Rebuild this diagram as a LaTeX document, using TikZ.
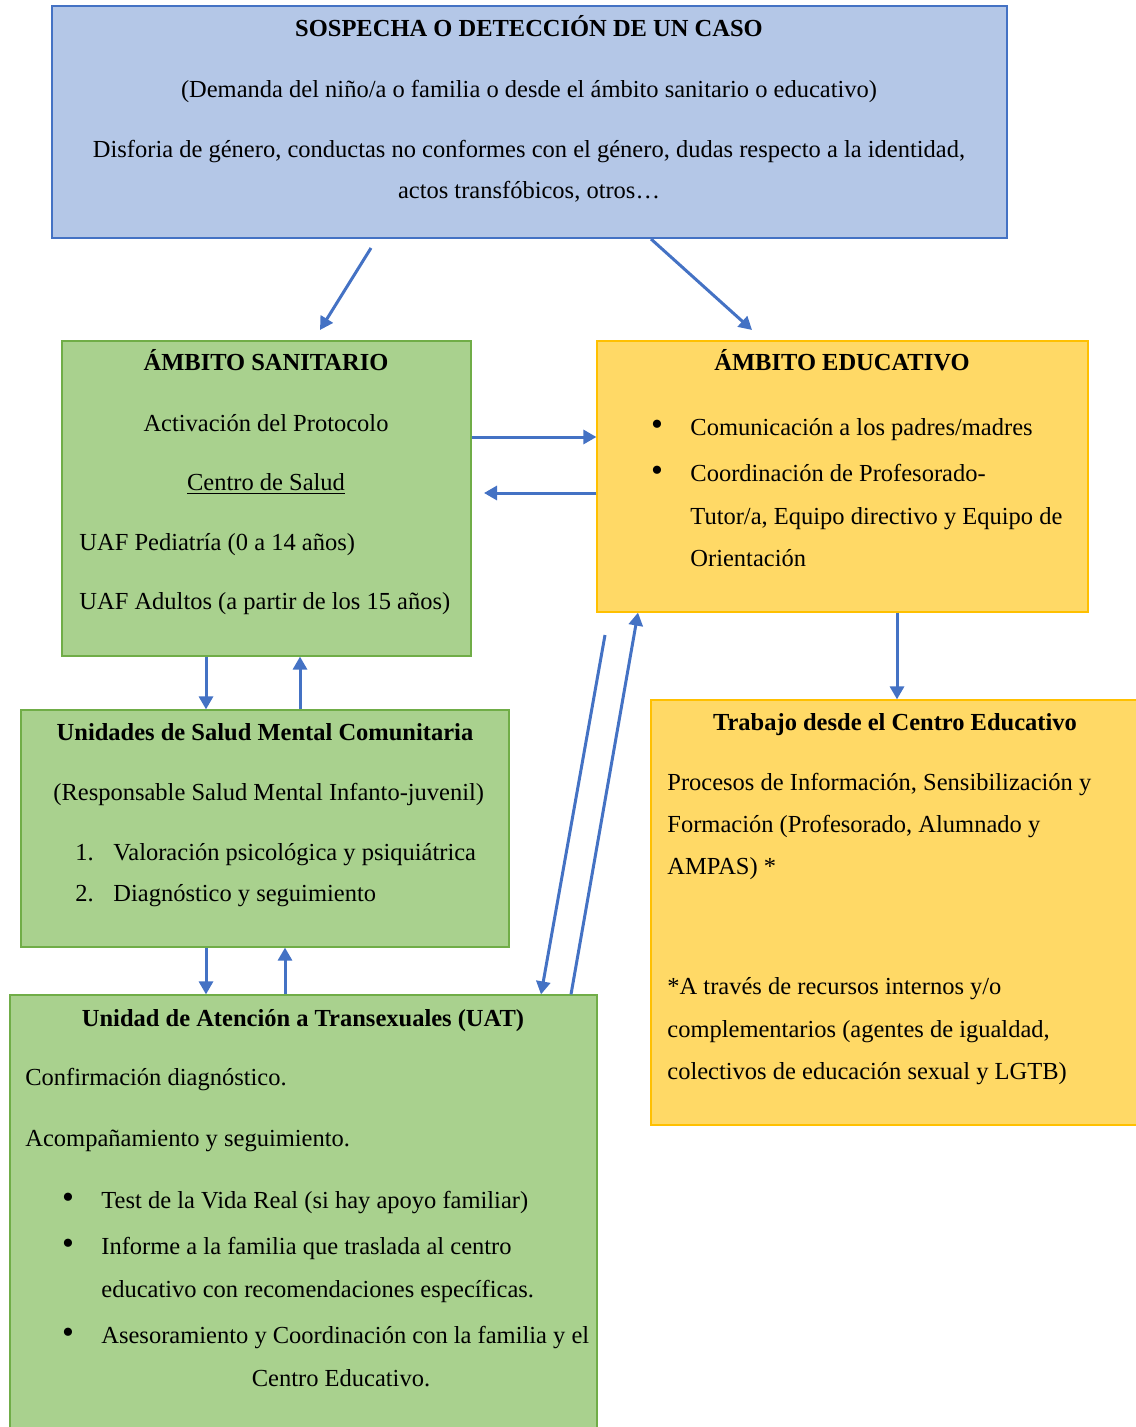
\documentclass[tikz,border=0pt]{standalone}
\usepackage{fontspec}
\setmainfont{Liberation Serif}
\usetikzlibrary{arrows.meta,fit}
\definecolor{bluefill}{HTML}{B4C7E7}
\definecolor{blueline}{HTML}{4472C4}
\definecolor{greenfill}{HTML}{A9D18E}
\definecolor{greenline}{HTML}{70AD47}
\definecolor{yellfill}{HTML}{FFD966}
\definecolor{yellline}{HTML}{FFC000}
\newcommand{\txtsize}{\fontsize{12.25}{14}\selectfont}
\newcommand{\dotmark}{{\fontsize{17}{17}\selectfont\textbullet}}
\tikzstyle{flow chart}=[
    x=0.5pt, y=-0.5pt,
    flowbox/.style={rectangle, inner sep=0pt, line width=0.6pt},
    blue box/.style={flowbox, fill=bluefill, draw=blueline},
    green box/.style={flowbox, fill=greenfill, draw=greenline},
    yellow box/.style={flowbox, fill=yellfill, draw=yellline},
    btitle/.style={font={\txtsize\bfseries}, anchor=center, inner sep=0pt, text height=1.5ex, text depth=0.3ex, yshift=-1.2pt},
    ltxt/.style={font={\txtsize}, anchor=west, inner sep=0pt, text height=1.5ex, text depth=0.3ex, yshift=-1pt},
    ctxt/.style={font={\txtsize}, anchor=center, inner sep=0pt, text height=1.5ex, text depth=0.3ex, yshift=-1pt},
    bul/.style={anchor=center, inner sep=0pt},
    flow/.style={draw=blueline, line width=1.5pt, -{Triangle[length=6.5pt,width=7pt]}},
]

\begin{document}
\begin{tikzpicture}[flow chart]
    \useasboundingbox (0,0) rectangle (1135,1427);

    % boxes
    \node[blue box, fit={(52,6) (1007,238)}] (sos) {};
    \node[green box, fit={(62,341) (471,656)}] (san) {};
    \node[yellow box, fit={(597,341) (1088,612)}] (edu) {};
    \node[green box, fit={(21,710) (509,947)}] (usm) {};
    \node[green box, fit={(10,995) (597,1432)}] (uat) {};
    \node[yellow box, fit={(651,700) (1140,1125)}] (trab) {};

    % sospecha
    \node[btitle] (sos-t) at (529,29) {SOSPECHA O DETECCIÓN DE UN CASO};
    \node[ctxt] (sos-a) at (529,90) {(Demanda del niño/a o familia o desde el ámbito sanitario o educativo)};
    \node[ctxt] (sos-b) at (529,150) {Disforia de género, conductas no conformes con el género, dudas respecto a la identidad,};
    \node[ctxt] (sos-c) at (529,191) {actos transfóbicos, otros…};

    % sanitario
    \node[btitle] (san-t) at (266,363) {ÁMBITO SANITARIO};
    \node[ctxt] (san-a) at (266,424) {Activación del Protocolo};
    \node[ctxt] (san-b) at (266,483) {\underline{Centro de Salud}};
    \node[ltxt] (san-c) at (79,543) {UAF Pediatría (0 a 14 años)};
    \node[ltxt] (san-d) at (79,602) {UAF Adultos (a partir de los 15 años)};

    % educativo
    \node[btitle] (edu-t) at (842,363) {ÁMBITO EDUCATIVO};
    \foreach \y in {428,474}
        \node[bul] (edu-b\y) at (657,\y) {\dotmark};
    \node[ltxt] (edu-a) at (690,428) {Comunicación a los padres/madres};
    \node[ltxt] (edu-b) at (690,474) {Coordinación de Profesorado-};
    \node[ltxt] (edu-c) at (690,517) {Tutor/a, Equipo directivo y Equipo de};
    \node[ltxt] (edu-d) at (690,559) {Orientación};

    % salud mental
    \node[btitle] (usm-t) at (265,733) {Unidades de Salud Mental Comunitaria};
    \node[ltxt] (usm-a) at (53,793) {(Responsable Salud Mental Infanto-juvenil)};
    \node[ltxt] (usm-n1) at (75,853) {1.};
    \node[ltxt] (usm-b) at (113,853) {Valoración psicológica y psiquiátrica};
    \node[ltxt] (usm-n2) at (75,894) {2.};
    \node[ltxt] (usm-c) at (113,894) {Diagnóstico y seguimiento};

    % UAT
    \node[btitle] (uat-t) at (303,1019) {Unidad de Atención a Transexuales (UAT)};
    \node[ltxt] (uat-a) at (25,1078) {Confirmación diagnóstico.};
    \node[ltxt] (uat-b) at (25,1139) {Acompañamiento y seguimiento.};
    \foreach \y in {1201,1247,1336}
        \node[bul] (uat-b\y) at (68,\y) {\dotmark};
    \node[ltxt] (uat-c) at (101,1201) {Test de la Vida Real (si hay apoyo familiar)};
    \node[ltxt] (uat-d) at (101,1247) {Informe a la familia que traslada al centro};
    \node[ltxt] (uat-e) at (101,1290) {educativo con recomendaciones específicas.};
    \node[ltxt] (uat-f) at (101,1336) {Asesoramiento y Coordinación con la familia y el};
    \node[ctxt] (uat-g) at (341,1379) {Centro Educativo.};

    % trabajo
    \node[btitle] (trab-t) at (895,723) {Trabajo desde el Centro Educativo};
    \node[ltxt] (trab-a) at (667,783) {Procesos de Información, Sensibilización y};
    \node[ltxt] (trab-b) at (667,825) {Formación (Profesorado, Alumnado y};
    \node[ltxt] (trab-c) at (667,867) {AMPAS) *};
    \node[ltxt] (trab-d) at (667,987) {*A través de recursos internos y/o};
    \node[ltxt] (trab-e) at (667,1030) {complementarios (agentes de igualdad,};
    \node[ltxt] (trab-f) at (667,1072) {colectivos de educación sexual y LGTB)};

    % arrows
    \coordinate (d1) at (371,248);
    \coordinate (d2) at (320,330);
    \coordinate (d3) at (651,239);
    \coordinate (d4) at (752,330);
    \coordinate (d5) at (605,635);
    \coordinate (d6) at (541,0);
    \coordinate (d7) at (571,0);
    \coordinate (d8) at (638,0);
    \coordinate (h1) at (0,437);
    \coordinate (h2) at (0,493);
    \coordinate (h3) at (484,0);
    \coordinate (v1) at (206,0);
    \coordinate (v2) at (300,0);
    \coordinate (v3) at (285,0);
    \coordinate (v4) at (897,0);

    \draw[flow] (d1) -- (d2);
    \draw[flow] (d3) -- (d4);
    \draw[flow] (san.east |- h1) -- (edu.west |- h1);
    \draw[flow] (edu.west |- h2) -- (h3 |- h2);
    \draw[flow] (san.south -| v1) -- (usm.north -| v1);
    \draw[flow] (usm.north -| v2) -- (san.south -| v2);
    \draw[flow] (usm.south -| v1) -- (uat.north -| v1);
    \draw[flow] (uat.north -| v3) -- (usm.south -| v3);
    \draw[flow] (d5) -- (uat.north -| d6);
    \draw[flow] (uat.north -| d7) -- (edu.south -| d8);
    \draw[flow] (edu.south -| v4) -- (trab.north -| v4);
\end{tikzpicture}
\end{document}
